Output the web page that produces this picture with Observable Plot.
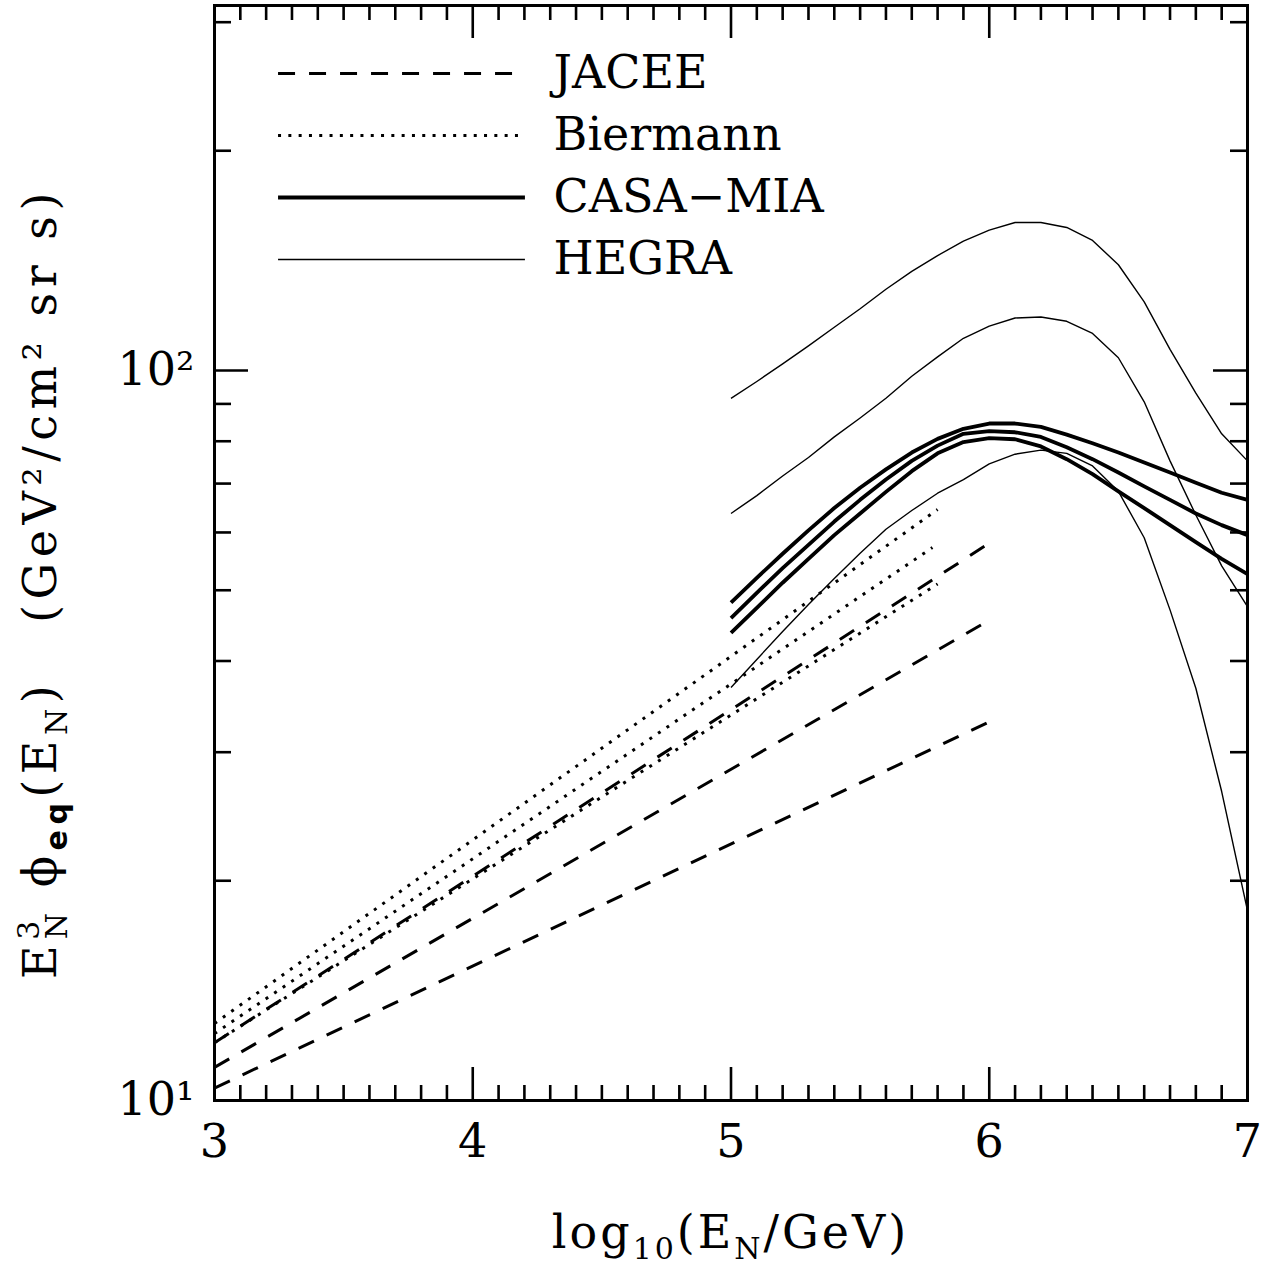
<!DOCTYPE html>
<html><head><meta charset="utf-8">
<script src="https://cdn.jsdelivr.net/npm/d3@7"></script>
<script src="https://cdn.jsdelivr.net/npm/@observablehq/plot@0.6"></script>
<style>body{margin:0;background:#fff}svg{display:block}</style>
</head><body><div id="chart"></div>
<script>
// ---- data ----
const knotX = [5.0,5.1,5.2,5.3,5.4,5.5,5.6,5.7,5.8,5.9,6.0,6.1,6.2,6.3,6.4,6.5,6.6,6.7,6.8,6.9,7.0];
const casaA = [48.1,52.0,56.1,60.4,64.8,69.1,73.2,77.2,80.6,83.2,84.6,84.6,83.7,81.7,79.5,77.2,74.8,72.5,70.2,68.0,66.5];
const casaB = [45.8,49.6,53.6,57.7,62.1,66.5,70.9,75.2,78.9,81.9,82.6,82.3,81.1,78.5,75.6,72.5,69.4,66.5,63.7,61.4,59.5];
const casaC = [43.7,47.3,51.2,55.2,59.5,63.7,68.2,72.8,77.0,79.8,80.8,80.5,78.7,75.6,72.1,68.3,64.8,61.4,58.2,55.2,52.6];
const hegraA = [91.6,96.6,102.1,108.1,114.6,121.5,129.2,136.7,143.7,150.4,155.7,159.5,159.5,157.0,150.7,139.6,124.2,106.9,93.1,81.9,75.2];
const hegraB = [63.7,67.4,71.7,76.0,81.1,86.1,91.6,98.2,104.4,110.7,115.0,118.0,118.4,116.8,112.4,104.1,90.6,75.2,63.4,54.0,47.5];
const hegraC = [36.8,40.2,43.9,47.8,51.9,56.2,60.6,64.3,67.9,70.9,74.5,76.8,77.8,77.0,74.0,68.3,59.0,47.0,36.7,26.5,18.2];
const jaceeX = [3.0, 6.0];
const jaceeA = [12.0, 58.0];
const jaceeB = [11.1, 45.5];
const jaceeC = [10.4, 33.0];
const biermannXA = [3.0, 5.8];
const biermannA = [12.75, 64.5];
const biermannXB = [3.0, 5.78];
const biermannB = [12.35, 57.2];
const biermannXC = [3.0, 5.8];
const biermannC = [12.0, 51.0];
const legendLabels = ["JACEE", "Biermann", "CASA\u2212MIA", "HEGRA"];
const xMajor = [3, 4, 5, 6, 7];
const xMinor = [3.1,3.2,3.3,3.4,3.5,3.6,3.7,3.8,3.9,4.1,4.2,4.3,4.4,4.5,4.6,4.7,4.8,4.9,5.1,5.2,5.3,5.4,5.5,5.6,5.7,5.8,5.9,6.1,6.2,6.3,6.4,6.5,6.6,6.7,6.8,6.9];
const yMajor = [10, 100];
const yMajorLabels = ["10\u00B9", "10\u00B2"];
const yMinor = [20,30,40,50,60,70,80,90,200,300];

// ---- build tables ----
function series(xs, ys, id) { return xs.map((x, i) => ({x, y: ys[i], id})); }
const casa = [...series(knotX, casaA, "a"), ...series(knotX, casaB, "b"), ...series(knotX, casaC, "c")];
const hegra = [...series(knotX, hegraA, "a"), ...series(knotX, hegraB, "b"), ...series(knotX, hegraC, "c")];
const jacee = [...series(jaceeX, jaceeA, "a"), ...series(jaceeX, jaceeB, "b"), ...series(jaceeX, jaceeC, "c")];
const biermann = [...series(biermannXA, biermannA, "a"), ...series(biermannXB, biermannB, "b"), ...series(biermannXC, biermannC, "c")];

// ---- layout ----
const W = 1264, H = 1273, mL = 214, mR = 17, mT = 5, mB = 173;
const frameH = H - mT - mB, frameW = W - mL - mR;
const yTopExp = 2.5;
const pxPerDecade = frameH / (yTopExp - 1);
const legendPy = [73, 135, 197, 259];  // pixel rows of the legend
const legendY = legendPy.map(p => Math.pow(10, yTopExp - (p - mT) / pxPerDecade));
const legendRows = legendLabels.map((label, i) => ({label, y: legendY[i], i}));
const styles = [
  {sw: 3, dash: "17,14"},
  {sw: 3, dash: "3,7.3"},
  {sw: 3.8, dash: null},
  {sw: 1.4, dash: null}
];
const FONT = "DejaVu Serif";

const lineStyle = (k) => ({stroke: "black", strokeWidth: styles[k].sw, strokeDasharray: styles[k].dash, strokeLinejoin: "round", strokeLinecap: "butt"});

const plot = Plot.plot({
  width: W, height: H,
  marginLeft: mL, marginRight: mR, marginTop: mT, marginBottom: mB,
  style: {fontFamily: FONT, background: "white"},
  x: {domain: [3, 7], axis: null},
  y: {type: "log", domain: [10, Math.pow(10, yTopExp)], axis: null},
  marks: [
    Plot.line(jacee, {x: "x", y: "y", z: "id", ...lineStyle(0)}),
    Plot.line(biermann, {x: "x", y: "y", z: "id", ...lineStyle(1)}),
    Plot.line(casa, {x: "x", y: "y", z: "id", ...lineStyle(2)}),
    Plot.line(hegra, {x: "x", y: "y", z: "id", ...lineStyle(3)}),
    // legend
    ...legendRows.map(r => Plot.ruleY([r], {y: "y", x1: 3.248, x2: 4.204, ...lineStyle(r.i)})),
    Plot.text(legendRows, {x: 4.313, y: "y", text: "label", textAnchor: "start", lineAnchor: "middle", fontSize: 46, fill: "black"}),
    // ticks (inward, on all four sides)
    Plot.ruleX(xMinor, {x: d => d, insetTop: frameH - 15, stroke: "black", strokeWidth: 2.6}),
    Plot.ruleX(xMinor, {x: d => d, insetBottom: frameH - 15, stroke: "black", strokeWidth: 2.6}),
    Plot.ruleX(xMajor, {x: d => d, insetTop: frameH - 33, stroke: "black", strokeWidth: 2.6}),
    Plot.ruleX(xMajor, {x: d => d, insetBottom: frameH - 33, stroke: "black", strokeWidth: 2.6}),
    Plot.ruleY(yMinor, {y: d => d, insetRight: frameW - 17, stroke: "black", strokeWidth: 2.6}),
    Plot.ruleY(yMinor, {y: d => d, insetLeft: frameW - 17, stroke: "black", strokeWidth: 2.6}),
    Plot.ruleY(yMajor, {y: d => d, insetRight: frameW - 34, stroke: "black", strokeWidth: 2.6}),
    Plot.ruleY(yMajor, {y: d => d, insetLeft: frameW - 34, stroke: "black", strokeWidth: 2.6}),
    Plot.frame({stroke: "black", strokeWidth: 3}),
    // tick labels
    Plot.text(xMajor, {x: d => d, y: 10, text: d => String(d), dy: 42, lineAnchor: "middle", fontSize: 46, fill: "black"}),
    Plot.text(yMajor, {x: 3, y: d => d, text: (d, i) => yMajorLabels[i], dx: -20, textAnchor: "end", lineAnchor: "middle", fontSize: 46, fill: "black"})
  ]
});
document.getElementById("chart").appendChild(plot);

// ---- axis titles with sub/superscripts ----
const svg = d3.select(plot);
const xt = svg.append("text")
  .attr("x", mL + frameW / 2).attr("y", 1248)
  .attr("text-anchor", "middle")
  .style("font-family", FONT).style("font-size", "46px").style("letter-spacing", "3px").attr("fill", "black");
xt.append("tspan").text("log");
xt.append("tspan").attr("dy", 11).style("font-size", "30px").text("10");
xt.append("tspan").attr("dy", -11).text("(E");
xt.append("tspan").attr("dy", 11).style("font-size", "30px").text("N");
xt.append("tspan").attr("dy", -11).text("/GeV)");

const yt = svg.append("text")
  .attr("transform", `translate(56, 583) rotate(-90)`)
  .attr("text-anchor", "middle")
  .style("font-family", FONT).style("font-size", "46px").style("letter-spacing", "5.5px").attr("fill", "black");
yt.append("tspan").text("E");
yt.append("tspan").attr("dy", -17).style("font-size", "30px").text("3");
yt.append("tspan").attr("dx", -24).attr("dy", 28).style("font-size", "30px").text("N");
yt.append("tspan").attr("dy", -11).text(" \u03D5");
yt.append("tspan").attr("dy", 11).style("font-size", "30px").style("font-family", "DejaVu Sans").style("font-weight", "bold").text("eq");
yt.append("tspan").attr("dy", -11).text("(E");
yt.append("tspan").attr("dy", 11).style("font-size", "30px").text("N");
yt.append("tspan").attr("dy", -11).text(")\u2002\u2002(GeV\u00B2/cm\u00B2 sr s)");
</script>
</body></html>
